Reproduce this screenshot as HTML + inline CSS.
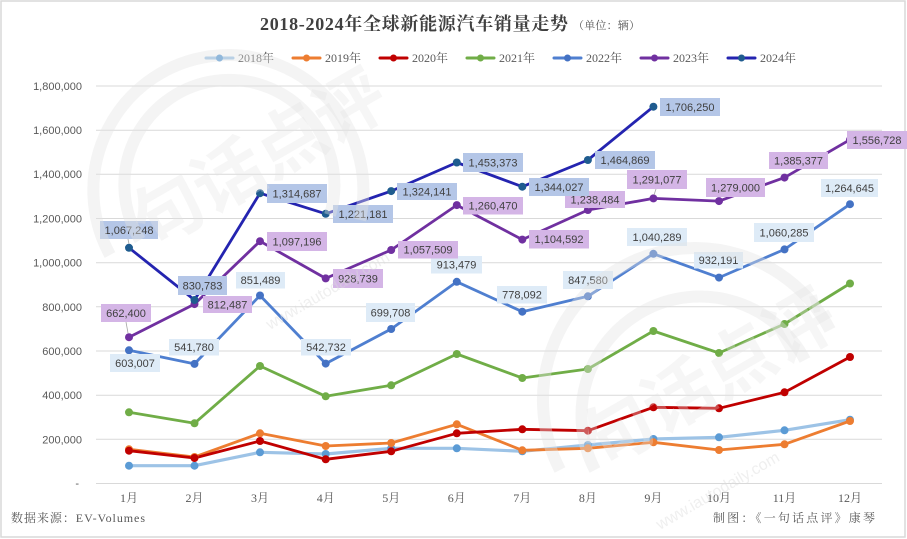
<!DOCTYPE html>
<html><head><meta charset="utf-8"><style>
html,body{margin:0;padding:0;background:#fff;}
svg{display:block;}
.ax{font-family:"Liberation Sans","Noto Sans CJK SC",sans-serif;font-size:11px;fill:#595959;}
.sf{font-family:"Liberation Serif","Noto Serif CJK SC",serif;fill:#595959;}
.lb{font-family:"Liberation Sans",sans-serif;font-size:11px;fill:#404040;text-anchor:middle;}
</style></head><body>
<svg width="907" height="539" viewBox="0 0 907 539" xmlns="http://www.w3.org/2000/svg">
<rect x="0" y="0" width="907" height="539" fill="#fff"/>
<rect x="1" y="1" width="904" height="536" fill="none" stroke="#d9d9d9" stroke-width="1.5"/>

<!-- title -->
<text x="260" y="30" class="sf" style="font-size:18px;font-weight:bold;fill:#404040" textLength="308" lengthAdjust="spacing">2018-2024年全球新能源汽车销量走势</text>
<text x="573" y="29" class="sf" style="font-size:11px;fill:#595959" textLength="67" lengthAdjust="spacing">（单位：辆）</text>

<!-- legend -->
<g stroke-width="3" stroke-linecap="round">
<line x1="206" y1="58" x2="233" y2="58" stroke="#9dc3e6"/><circle cx="219.5" cy="58" r="3.5" fill="#5b9bd5"/>
<line x1="293" y1="58" x2="320" y2="58" stroke="#ed7d31"/><circle cx="306.5" cy="58" r="3.5" fill="#ed7d31"/>
<line x1="380" y1="58" x2="407" y2="58" stroke="#c00000"/><circle cx="393.5" cy="58" r="3.5" fill="#c00000"/>
<line x1="467" y1="58" x2="494" y2="58" stroke="#70ad47"/><circle cx="480.5" cy="58" r="3.5" fill="#70ad47"/>
<line x1="554" y1="58" x2="581" y2="58" stroke="#4f7fd0"/><circle cx="567.5" cy="58" r="3.5" fill="#4472c4"/>
<line x1="641" y1="58" x2="668" y2="58" stroke="#7030a0"/><circle cx="654.5" cy="58" r="3.5" fill="#7030a0"/>
<line x1="728" y1="58" x2="755" y2="58" stroke="#2424b0"/><circle cx="741.5" cy="58" r="3.5" fill="#1f5c8f"/>
</g>
<g class="sf" style="font-size:12px">
<text x="238" y="62">2018年</text><text x="325" y="62">2019年</text><text x="412" y="62">2020年</text>
<text x="499" y="62">2021年</text><text x="586" y="62">2022年</text><text x="673" y="62">2023年</text><text x="760" y="62">2024年</text>
</g>

<!-- grid -->
<g stroke="#d9d9d9" stroke-width="1">
<line x1="96" y1="86" x2="882" y2="86"/><line x1="96" y1="130.2" x2="882" y2="130.2"/>
<line x1="96" y1="174.3" x2="882" y2="174.3"/><line x1="96" y1="218.5" x2="882" y2="218.5"/>
<line x1="96" y1="262.7" x2="882" y2="262.7"/><line x1="96" y1="306.8" x2="882" y2="306.8"/>
<line x1="96" y1="351" x2="882" y2="351"/><line x1="96" y1="395.2" x2="882" y2="395.2"/>
<line x1="96" y1="439.3" x2="882" y2="439.3"/><line x1="96" y1="483.5" x2="882" y2="483.5"/>
</g>
<g class="ax" text-anchor="end">
<text x="82" y="90">1,800,000</text><text x="82" y="134">1,600,000</text><text x="82" y="178">1,400,000</text>
<text x="82" y="222.5">1,200,000</text><text x="82" y="266.5">1,000,000</text><text x="82" y="311">800,000</text>
<text x="82" y="355">600,000</text><text x="82" y="399">400,000</text><text x="82" y="443.5">200,000</text>
<text x="79" y="487">-</text>
</g>
<g class="sf" style="font-size:12px" text-anchor="middle">
<text x="129" y="502">1月</text><text x="194.5" y="502">2月</text><text x="260" y="502">3月</text><text x="325.7" y="502">4月</text>
<text x="391.2" y="502">5月</text><text x="456.8" y="502">6月</text><text x="522.3" y="502">7月</text><text x="587.9" y="502">8月</text>
<text x="653.4" y="502">9月</text><text x="719" y="502">10月</text><text x="784.5" y="502">11月</text><text x="850" y="502">12月</text>
</g>
<text x="11" y="522" class="sf" style="font-size:12px" textLength="134" lengthAdjust="spacing">数据来源：EV-Volumes</text>
<text x="713" y="522" class="sf" style="font-size:12px" textLength="162" lengthAdjust="spacing">制图：《一句话点评》康琴</text>

<!-- series -->
<g fill="none" stroke-width="2.8" stroke-linejoin="round" stroke-linecap="round">
<polyline stroke="#9dc3e6" stroke-width="3.2" points="129,465.7 194.5,465.7 260,452.3 325.7,454 391.2,448.3 456.8,448.3 522.3,451.3 587.9,445 653.4,439 719,437.3 784.5,430.3 850,419.7"/>
<polyline stroke="#ed7d31" points="129,449.3 194.5,457 260,433.3 325.7,446 391.2,443 456.8,424.3 522.3,450.3 587.9,448.3 653.4,442.3 719,450 784.5,444.3 850,421"/>
<polyline stroke="#c00000" points="129,450.7 194.5,458 260,441 325.7,459.3 391.2,451.3 456.8,433.3 522.3,429.3 587.9,430.7 653.4,407.3 719,408.3 784.5,392.3 850,357"/>
<polyline stroke="#70ad47" points="129,412.3 194.5,423.3 260,366 325.7,396.3 391.2,385.3 456.8,354 522.3,378 587.9,369 653.4,331 719,353 784.5,324 850,283.5"/>
<polyline stroke="#4f7fd0" points="129,350.3 194.5,363.9 260,295.5 325.7,363.6 391.2,329 456.8,281.8 522.3,311.7 587.9,296.3 653.4,253.8 719,277.6 784.5,249.4 850,204.2"/>
<polyline stroke="#7030a0" points="129,337.2 194.5,304.1 260,241.2 325.7,278.4 391.2,250 456.8,205.1 522.3,239.6 587.9,210 653.4,198.4 719,201.1 784.5,177.6 850,139.7"/>
<polyline stroke="#2424b0" points="129,247.8 194.5,300 260,193.2 325.7,213.8 391.2,191.1 456.8,162.5 522.3,186.7 587.9,160 653.4,106.7"/>
</g>
<g fill="#5b9bd5">
<circle cx="129" cy="465.7" r="4"/><circle cx="194.5" cy="465.7" r="4"/><circle cx="260" cy="452.3" r="4"/><circle cx="325.7" cy="454" r="4"/><circle cx="391.2" cy="448.3" r="4"/><circle cx="456.8" cy="448.3" r="4"/><circle cx="522.3" cy="451.3" r="4"/><circle cx="587.9" cy="445" r="4"/><circle cx="653.4" cy="439" r="4"/><circle cx="719" cy="437.3" r="4"/><circle cx="784.5" cy="430.3" r="4"/><circle cx="850" cy="419.7" r="4"/>
</g>
<g fill="#ed7d31">
<circle cx="129" cy="449.3" r="4"/><circle cx="194.5" cy="457" r="4"/><circle cx="260" cy="433.3" r="4"/><circle cx="325.7" cy="446" r="4"/><circle cx="391.2" cy="443" r="4"/><circle cx="456.8" cy="424.3" r="4"/><circle cx="522.3" cy="450.3" r="4"/><circle cx="587.9" cy="448.3" r="4"/><circle cx="653.4" cy="442.3" r="4"/><circle cx="719" cy="450" r="4"/><circle cx="784.5" cy="444.3" r="4"/><circle cx="850" cy="421" r="4"/>
</g>
<g fill="#c00000">
<circle cx="129" cy="450.7" r="4"/><circle cx="194.5" cy="458" r="4"/><circle cx="260" cy="441" r="4"/><circle cx="325.7" cy="459.3" r="4"/><circle cx="391.2" cy="451.3" r="4"/><circle cx="456.8" cy="433.3" r="4"/><circle cx="522.3" cy="429.3" r="4"/><circle cx="587.9" cy="430.7" r="4"/><circle cx="653.4" cy="407.3" r="4"/><circle cx="719" cy="408.3" r="4"/><circle cx="784.5" cy="392.3" r="4"/><circle cx="850" cy="357" r="4"/>
</g>
<g fill="#70ad47">
<circle cx="129" cy="412.3" r="4"/><circle cx="194.5" cy="423.3" r="4"/><circle cx="260" cy="366" r="4"/><circle cx="325.7" cy="396.3" r="4"/><circle cx="391.2" cy="385.3" r="4"/><circle cx="456.8" cy="354" r="4"/><circle cx="522.3" cy="378" r="4"/><circle cx="587.9" cy="369" r="4"/><circle cx="653.4" cy="331" r="4"/><circle cx="719" cy="353" r="4"/><circle cx="784.5" cy="324" r="4"/><circle cx="850" cy="283.5" r="4"/>
</g>
<g fill="#4472c4">
<circle cx="129" cy="350.3" r="4"/><circle cx="194.5" cy="363.9" r="4"/><circle cx="260" cy="295.5" r="4"/><circle cx="325.7" cy="363.6" r="4"/><circle cx="391.2" cy="329" r="4"/><circle cx="456.8" cy="281.8" r="4"/><circle cx="522.3" cy="311.7" r="4"/><circle cx="587.9" cy="296.3" r="4"/><circle cx="653.4" cy="253.8" r="4"/><circle cx="719" cy="277.6" r="4"/><circle cx="784.5" cy="249.4" r="4"/><circle cx="850" cy="204.2" r="4"/>
</g>
<g fill="#7030a0">
<circle cx="129" cy="337.2" r="4"/><circle cx="194.5" cy="304.1" r="4"/><circle cx="260" cy="241.2" r="4"/><circle cx="325.7" cy="278.4" r="4"/><circle cx="391.2" cy="250" r="4"/><circle cx="456.8" cy="205.1" r="4"/><circle cx="522.3" cy="239.6" r="4"/><circle cx="587.9" cy="210" r="4"/><circle cx="653.4" cy="198.4" r="4"/><circle cx="719" cy="201.1" r="4"/><circle cx="784.5" cy="177.6" r="4"/><circle cx="850" cy="139.7" r="4"/>
</g>
<g fill="#1f5c8f">
<circle cx="129" cy="247.8" r="4"/><circle cx="194.5" cy="300" r="4"/><circle cx="260" cy="193.2" r="4"/><circle cx="325.7" cy="213.8" r="4"/><circle cx="391.2" cy="191.1" r="4"/><circle cx="456.8" cy="162.5" r="4"/><circle cx="522.3" cy="186.7" r="4"/><circle cx="587.9" cy="160" r="4"/><circle cx="653.4" cy="106.7" r="4"/>
</g>

<!-- leader lines -->
<g stroke="#a6a6a6" stroke-width="0.8">
<line x1="128" y1="239" x2="129" y2="244"/>
<line x1="126" y1="322" x2="128" y2="333"/>
<line x1="595" y1="207" x2="588" y2="208"/>
<line x1="656" y1="189" x2="654" y2="195"/>
</g>

<!-- 2022 labels -->
<g fill="#deebf7">
<rect x="110" y="354" width="50" height="18"/><rect x="169" y="339" width="50" height="16.5"/>
<rect x="236" y="272" width="49" height="16.5"/><rect x="301" y="339" width="50" height="16.5"/>
<rect x="366" y="303" width="49" height="19"/><rect x="431" y="256" width="51" height="17.5"/>
<rect x="497" y="286" width="50" height="17.5"/><rect x="563" y="271" width="50" height="18"/>
<rect x="627" y="228" width="60" height="18"/><rect x="694" y="252" width="49" height="16.5"/>
<rect x="754" y="223" width="60" height="19"/><rect x="821" y="179" width="57" height="18"/>
</g>
<g class="lb">
<text x="135" y="367">603,007</text><text x="194" y="351">541,780</text>
<text x="260.5" y="284">851,489</text><text x="326" y="351">542,732</text>
<text x="390.5" y="316.5">699,708</text><text x="456.5" y="268.5">913,479</text>
<text x="522" y="298.5">778,092</text><text x="588" y="284">847,580</text>
<text x="657" y="241">1,040,289</text><text x="718.5" y="264">932,191</text>
<text x="784" y="236.5">1,060,285</text><text x="849.5" y="192">1,264,645</text>
</g>

<!-- 2023 labels -->
<g fill="#d4b5e6">
<rect x="101" y="304" width="50" height="18"/><rect x="203" y="296" width="49" height="17"/>
<rect x="267" y="232" width="60" height="19"/><rect x="333" y="269" width="50" height="19"/>
<rect x="398" y="241" width="60" height="17.5"/><rect x="463" y="197" width="60" height="17.5"/>
<rect x="529" y="230" width="60" height="18.5"/><rect x="565" y="191" width="60" height="17"/>
<rect x="627" y="170" width="60" height="19"/><rect x="706" y="178" width="59" height="19"/>
<rect x="769" y="152" width="59" height="17"/><rect x="847" y="131" width="60" height="18"/>
</g>
<g class="lb">
<text x="126" y="317">662,400</text><text x="227.5" y="308.5">812,487</text>
<text x="297" y="245.5">1,097,196</text><text x="358" y="282.5">928,739</text>
<text x="428" y="253.5">1,057,509</text><text x="493" y="209.5">1,260,470</text>
<text x="559" y="243">1,104,592</text><text x="595" y="203.5">1,238,484</text>
<text x="657" y="183.5">1,291,077</text><text x="735.5" y="191.5">1,279,000</text>
<text x="798.5" y="164.5">1,385,377</text><text x="877" y="144">1,556,728</text>
</g>

<!-- 2024 labels -->
<g fill="#b4c6e7">
<rect x="100" y="221" width="58" height="18"/><rect x="178" y="276" width="49" height="19"/>
<rect x="267" y="184" width="60" height="19"/><rect x="333" y="205" width="60" height="18"/>
<rect x="397" y="183" width="60" height="17"/><rect x="463" y="153" width="60" height="19"/>
<rect x="529" y="178" width="60" height="18"/><rect x="595" y="151" width="60" height="18"/>
<rect x="660" y="98" width="60" height="18"/>
</g>
<g class="lb">
<text x="129" y="234">1,067,248</text><text x="202.5" y="289.5">830,783</text>
<text x="297" y="197.5">1,314,687</text><text x="363" y="218">1,221,181</text>
<text x="427" y="195.5">1,324,141</text><text x="493" y="166.5">1,453,373</text>
<text x="559" y="191">1,344,027</text><text x="625" y="164">1,464,869</text>
<text x="690" y="111">1,706,250</text>
</g>

<!-- watermark -->
<g fill="none" stroke="rgba(228,228,228,0.4)" stroke-width="12">
<path d="M 110 255 A 135 135 0 1 1 360 220"/>
<path d="M 140 240 A 105 105 0 1 1 330 215"/>
<path d="M 560 470 A 150 150 0 0 1 830 330"/>
<path d="M 595 470 A 118 118 0 0 1 805 360"/>
</g>
<g fill="rgba(228,228,228,0.32)" style="font-family:'Noto Sans CJK SC',sans-serif;font-size:70px;font-weight:bold">
<text x="150" y="250" transform="rotate(-30 150 250)">句话点评</text>
<text x="600" y="470" transform="rotate(-30 600 470)">句话点评</text>
</g>
<g fill="rgba(220,220,220,0.45)" style="font-family:'Liberation Sans',sans-serif;font-size:16px">
<text x="270" y="330" transform="rotate(-30 270 330)">www.iautodaily.com</text>
<text x="660" y="530" transform="rotate(-30 660 530)">www.iautodaily.com</text>
</g>
</svg>
</body></html>
